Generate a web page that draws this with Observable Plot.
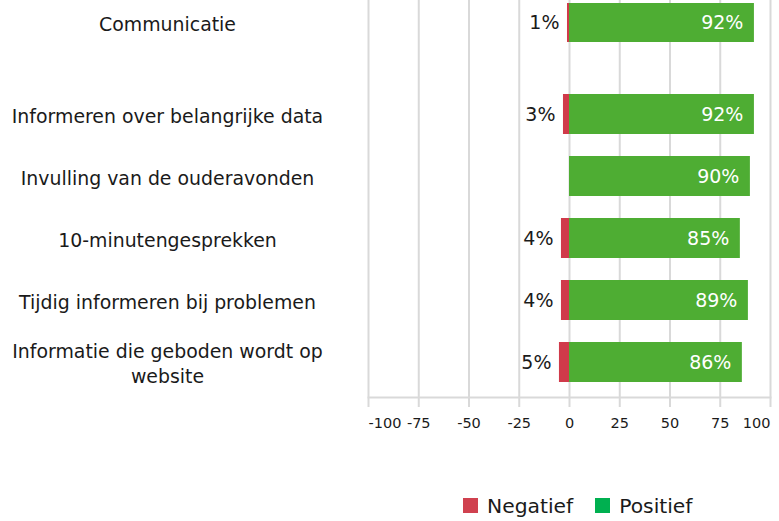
<!DOCTYPE html>
<html><head><meta charset="utf-8">
<script src="https://cdn.jsdelivr.net/npm/d3@7"></script>
<script src="https://cdn.jsdelivr.net/npm/@observablehq/plot@0.6"></script>
<style>
body{margin:0;background:#fff;font-family:"DejaVu Sans",Verdana,sans-serif;}
#chart svg{display:block;}
#legend{display:flex;align-items:center;height:25px;margin-top:56px;margin-left:463px;font-size:20.3px;color:#1a1a1a;}
#legend .item{display:flex;align-items:center;margin-right:22px;}
#legend .sw{width:15px;height:15px;display:inline-block;margin-right:9px;}
</style></head><body>
<div id="chart"></div>
<script>
const categories = ["Communicatie","Informeren over belangrijke data","Invulling van de ouderavonden","10-minutengesprekken","Tijdig informeren bij problemen","Informatie die geboden wordt op\nwebsite"];
const negatief = [1,3,0,4,4,5];
const positief = [92,92,90,85,89,86];
const xTicks = [-100,-75,-50,-25,0,25,50,75,100];
const seriesNames = ["Negatief","Positief"];
const barColors = ["#d03a4a","#4ead33"];
const legendColors = ["#d0414f","#00b050"];

const rows = categories.map((c,i)=>({cat:c, neg:negatief[i], pos:positief[i]}));
const FONT = "DejaVu Sans, Verdana, sans-serif";
const W = 779, ML = 368, MR = 9;
const fmt = d => String(d);

function baseMarks(data, gridExtend){
  return [
    Plot.ruleX(xTicks, {stroke:"#d9d9d9", strokeWidth:2, insetBottom:-gridExtend}),
    Plot.barX(data, {y:"cat", x1:d=>-d.neg, x2:0, fill:barColors[0]}),
    Plot.barX(data, {y:"cat", x1:0, x2:"pos", fill:barColors[1]}),
    Plot.text(data.filter(d=>d.neg>0), {y:"cat", x:d=>-d.neg, text:d=>d.neg+"%", textAnchor:"end", dx:-8, fill:"#1a1a1a", fontSize:19}),
    Plot.text(data, {y:"cat", x:"pos", text:d=>d.pos+"%", textAnchor:"end", dx:-11, fill:"white", fontSize:19}),
    Plot.axisY({tickSize:0, tickPadding:0, textAnchor:"middle", dx:-(ML-167), fontSize:18.9, lineHeight:1.33, lineWidth:Infinity, fill:"#1a1a1a", label:null})
  ];
}

const topPlot = Plot.plot({
  width:W, height:78, marginTop:0, marginBottom:32, marginLeft:ML, marginRight:MR,
  style:{fontFamily:FONT, background:"white"},
  x:{domain:[-100,100], axis:null},
  y:{domain:[categories[0]], padding:0.07},
  marks: baseMarks(rows.slice(0,1), 32)
});

const bottomPlot = Plot.plot({
  width:W, height:359, marginTop:0, marginBottom:40, marginLeft:ML, marginRight:MR,
  style:{fontFamily:FONT, background:"white"},
  x:{domain:[-100,100]},
  y:{domain:categories.slice(1), paddingInner:0.357, paddingOuter:0.24},
  marks: [
    ...baseMarks(rows.slice(1), 10),
    Plot.frame({anchor:"bottom", stroke:"#d9d9d9", strokeWidth:2}),
    Plot.axisX({ticks:xTicks.slice(1,-1), tickFormat:fmt, tickSize:0, tickPadding:20, fontSize:14.5, fill:"#1a1a1a", label:null}),
    Plot.axisX({ticks:[xTicks[0]], tickFormat:fmt, tickSize:0, tickPadding:20, fontSize:14.5, fill:"#1a1a1a", textAnchor:"start", label:null}),
    Plot.axisX({ticks:[xTicks[xTicks.length-1]], tickFormat:fmt, tickSize:0, tickPadding:20, fontSize:14.5, fill:"#1a1a1a", textAnchor:"end", label:null})
  ]
});

const chart = document.getElementById("chart");
chart.appendChild(topPlot);
chart.appendChild(bottomPlot);

const legend = document.createElement("div");
legend.id = "legend";
seriesNames.forEach((n,i)=>{
  const item = document.createElement("span");
  item.className = "item";
  const sw = document.createElement("span");
  sw.className = "sw";
  sw.style.background = legendColors[i];
  item.appendChild(sw);
  item.appendChild(document.createTextNode(n));
  legend.appendChild(item);
});
chart.appendChild(legend);
</script>
</body></html>
